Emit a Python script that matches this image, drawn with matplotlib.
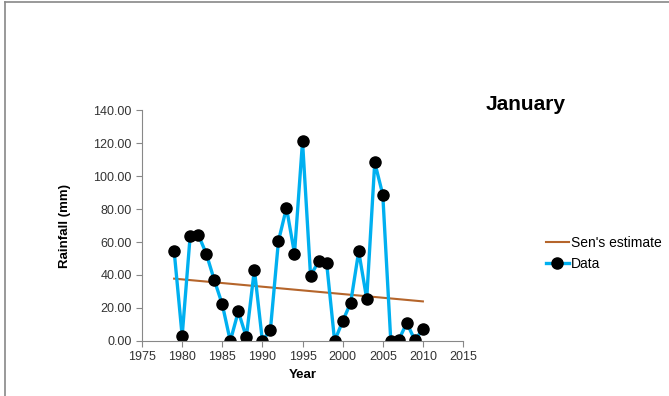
import numpy as np
import matplotlib.pyplot as plt
from matplotlib.lines import Line2D

plt.rcParams['font.family'] = ['Liberation Sans', 'DejaVu Sans']

years = np.arange(1979, 2011)
rainfall = [54.7, 3.0, 63.8, 64.5, 53.0, 37.0, 22.2, 0.0, 17.9, 2.3,
            43.3, 0.0, 6.9, 60.6, 80.7, 53.0, 121.0, 39.6, 48.2, 47.4,
            0.0, 12.0, 23.2, 54.3, 25.6, 108.2, 88.7, 0.0, 0.8, 11.0,
            0.4, 7.3]
sen_start, sen_end = 37.8, 24.0

fig = plt.figure(figsize=(6.69, 3.96), dpi=100)
ax = fig.add_axes([0.2123, 0.1389, 0.4798, 0.5833])

sen_line = np.linspace(sen_start, sen_end, len(years))
ax.plot(years, sen_line, color='#B5652B', lw=1.5, label="Sen's estimate")
ax.plot(years, rainfall, color='#00B0F0', lw=2.4, solid_joinstyle='miter',
        marker='o', ms=8, mfc='black', mec='black', label='Data')

ax.set_xlim(1975, 2015)
ax.set_ylim(0, 140)
ax.set_xticks(np.arange(1975, 2016, 5))
ax.set_yticks(np.arange(0, 141, 20))
ax.yaxis.set_major_formatter(lambda v, p: f'{v:.2f}')
for s in ['top', 'right']:
    ax.spines[s].set_visible(False)
for s in ['left', 'bottom']:
    ax.spines[s].set_color('#888888')
    ax.spines[s].set_linewidth(0.8)
ax.tick_params(colors='#888888', labelcolor='#333333', labelsize=9,
               length=4, width=0.8)
ax.set_xlabel('Year', fontsize=9.5, fontweight='bold', labelpad=4)
ax.set_ylabel('Rainfall (mm)', fontsize=9.5, fontweight='bold', labelpad=16)

fig.text(0.785, 0.735, 'January', fontsize=15, fontweight='bold',
         ha='center', va='center')

ax.legend(loc='center left', bbox_to_anchor=(0.797, 0.36),
          bbox_transform=fig.transFigure, frameon=False, fontsize=10,
          handlelength=1.7, handletextpad=0.1, labelspacing=0.45)

# outer frame (left and top edges)
fig.add_artist(Line2D([0.0075, 0.0075], [0, 0.995], transform=fig.transFigure,
                      color='#888888', lw=1.2))
fig.add_artist(Line2D([0.0075, 1], [0.995, 0.995], transform=fig.transFigure,
                      color='#888888', lw=1.2))

fig.savefig('out.png', dpi=100)
